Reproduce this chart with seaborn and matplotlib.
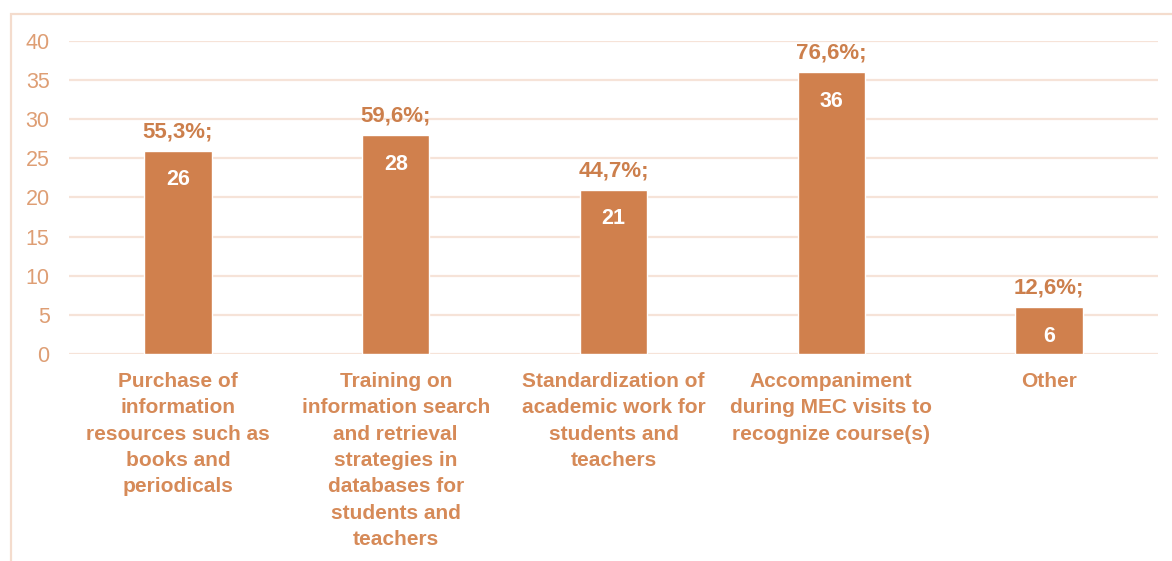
import pandas as pd
import seaborn as sns
import matplotlib.pyplot as plt
from matplotlib.patches import Rectangle

categories = [
    'Purchase of\ninformation\nresources such as\nbooks and\nperiodicals',
    'Training on\ninformation search\nand retrieval\nstrategies in\ndatabases for\nstudents and\nteachers',
    'Standardization of\nacademic work for\nstudents and\nteachers',
    'Accompaniment\nduring MEC visits to\nrecognize course(s)',
    'Other',
]
counts = [26, 28, 21, 36, 6]
percent_labels = ['55,3%;', '59,6%;', '44,7%;', '76,6%;', '12,6%;']

bar_color = '#D0804D'
label_color = '#D68A58'
tick_color = '#DE9E74'
grid_color = '#F6E3D8'

sns.set_theme(style='white')
plt.rcParams['font.family'] = ['Liberation Sans', 'DejaVu Sans']

df = pd.DataFrame({'category': categories, 'count': counts})

fig = plt.figure(figsize=(11.72, 5.61), dpi=100)
ax = fig.add_axes([0.0589, 0.369, 0.9291, 0.558])

sns.barplot(data=df, x='category', y='count', color=bar_color,
            saturation=1, width=0.31, ax=ax, zorder=3)

ax.set_ylim(0, 40)
ax.set_xlim(-0.5, len(categories) - 0.5)
ax.set_yticks(range(0, 41, 5))
ax.yaxis.grid(True, color=grid_color, linewidth=1.6, zorder=0)
ax.set_axisbelow(True)
for s in ax.spines.values():
    s.set_visible(False)
ax.set_xlabel(None)
ax.set_ylabel(None)
ax.tick_params(axis='y', length=0, pad=14, labelsize=15.5, labelcolor=tick_color)
ax.tick_params(axis='x', length=0, pad=13)
ax.set_xticks(range(len(categories)))
ax.set_xticklabels(categories, fontsize=15, fontweight='bold',
                   color=label_color, linespacing=1.49, va='top')

for i, (c, p) in enumerate(zip(counts, percent_labels)):
    ax.annotate(p, (i, c), xytext=(0, 6), textcoords='offset points',
                ha='center', va='bottom', fontsize=16, fontweight='bold',
                color='#CC7F4C')
    ax.annotate(str(c), (i, c), xytext=(0, -21), textcoords='offset points',
                ha='center', va='center', fontsize=15.5, fontweight='bold',
                color='white')

fig.add_artist(Rectangle((0.0094, -0.1), 1.2, 1.075, transform=fig.transFigure,
                         fill=False, edgecolor='#F4DCCD', linewidth=1.6))

plt.savefig('out.png', dpi=100)
plt.close()
